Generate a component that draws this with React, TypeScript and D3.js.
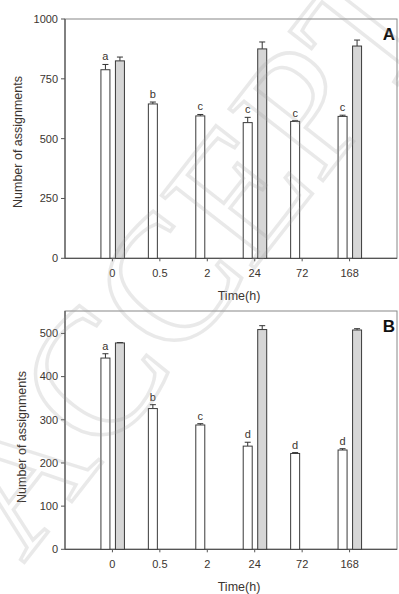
import React from "react";
import * as d3 from "d3";

const categories = ["0", "0.5", "2", "24", "72", "168"];

const whiteA = [788, 645, 595, 567, 572, 593];
const whiteErrA = [22, 8, 6, 22, 3, 5];
const grayA: (number | null)[] = [825, null, null, 875, null, 887];
const grayErrA = [16, 0, 0, 29, 0, 25];
const lettersA = ["a", "b", "c", "c", "c", "c"];
const ticksA = [0, 250, 500, 750, 1000];

const whiteB = [443, 326, 288, 239, 222, 230];
const whiteErrB = [10, 9, 3, 9, 2, 3];
const grayB: (number | null)[] = [478, null, null, 509, null, 508];
const grayErrB = [1, 0, 0, 9, 0, 3];
const lettersB = ["a", "b", "c", "d", "d", "d"];
const ticksB = [0, 100, 200, 300, 400, 500];

const TEXT = "#3b3530";
const FONT = "'Liberation Sans', Arial, sans-serif";

type PanelProps = {
  top: number;
  bottom: number;
  yMax: number;
  ticks: number[];
  white: number[];
  whiteErr: number[];
  gray: (number | null)[];
  grayErr: number[];
  letters: string[];
  tag: string;
  titleX: number;
  titleY: number;
};

function Panel(p: PanelProps) {
  const left = 65;
  const right = 397;
  const x = d3.scaleLinear().domain([0, categories.length + 1]).range([left, right]);
  const y = d3.scaleLinear().domain([0, p.yMax]).range([p.bottom, p.top]);
  const bw = 9;
  const els: React.ReactNode[] = [];

  categories.forEach((c, i) => {
    const cx = x(i + 1);
    const wv = p.white[i];
    const wx = cx - 11.5;
    const we = p.whiteErr[i];
    els.push(
      <g key={"w" + i}>
        <line x1={wx + bw / 2} x2={wx + bw / 2} y1={y(wv)} y2={y(wv + we)} stroke="#333" strokeWidth={1} />
        <line x1={wx + bw / 2 - 3} x2={wx + bw / 2 + 3} y1={y(wv + we)} y2={y(wv + we)} stroke="#333" strokeWidth={1} />
        <rect x={wx} y={y(wv)} width={bw} height={y(0) - y(wv)} fill="#fff" stroke="#3a3a3a" strokeWidth={1} />
        <text x={wx + bw / 2} y={y(wv + we) - 4} textAnchor="middle" fontSize={11} fill={TEXT} fontFamily={FONT}>
          {p.letters[i]}
        </text>
      </g>
    );
    const gv = p.gray[i];
    if (gv != null) {
      const gx = cx + 3;
      const ge = p.grayErr[i];
      els.push(
        <g key={"g" + i}>
          <line x1={gx + bw / 2} x2={gx + bw / 2} y1={y(gv)} y2={y(gv + ge)} stroke="#333" strokeWidth={1} />
          <line x1={gx + bw / 2 - 3} x2={gx + bw / 2 + 3} y1={y(gv + ge)} y2={y(gv + ge)} stroke="#333" strokeWidth={1} />
          <rect x={gx} y={y(gv)} width={bw} height={y(0) - y(gv)} fill="#d6d6d6" stroke="#3a3a3a" strokeWidth={1} />
        </g>
      );
    }
    els.push(
      <g key={"xt" + i}>
        <line x1={cx} x2={cx} y1={p.bottom} y2={p.bottom + 3} stroke="#555" />
        <text x={cx} y={p.bottom + 19} textAnchor="middle" fontSize={11} fill={TEXT} fontFamily={FONT}>
          {c}
        </text>
      </g>
    );
  });

  return (
    <g>
      <rect x={left} y={p.top} width={right - left} height={p.bottom - p.top} fill="none" stroke="#888" strokeWidth={1} />
      {p.ticks.map((t) => (
        <g key={"yt" + t}>
          <line x1={left - 4} x2={left} y1={y(t)} y2={y(t)} stroke="#555" />
          <text x={left - 7} y={y(t)} dy="0.35em" textAnchor="end" fontSize={11} fill={TEXT} fontFamily={FONT}>
            {t}
          </text>
        </g>
      ))}
      <line x1={left} x2={right} y1={p.bottom} y2={p.bottom} stroke="#555" strokeWidth={1.2} />
      <line x1={left} x2={left} y1={p.top} y2={p.bottom} stroke="#555" strokeWidth={1.2} />
      {els}
      <text x={395} y={p.top + 21} textAnchor="end" fontSize={17} fontWeight="bold" fill="#111" fontFamily={FONT}>
        {p.tag}
      </text>
      <text x={(left + right) / 2 + 8} y={p.bottom + 42} textAnchor="middle" fontSize={12.5} fill={TEXT} fontFamily={FONT}>
        Time(h)
      </text>
      <text
        transform={`translate(${p.titleX},${p.titleY}) rotate(-90)`}
        textAnchor="middle"
        dominantBaseline="central"
        fontSize={12.5}
        fill={TEXT}
        fontFamily={FONT}
      >
        Number of assignments
      </text>
    </g>
  );
}

export default function App() {
  return (
    <svg
      width={399}
      height={594}
      style={{ position: "absolute", left: 0, top: 0, background: "#fff" }}
    >
      <rect x={0} y={0} width={399} height={594} fill="#fff" />
      <Panel
        top={19}
        bottom={258.3}
        yMax={1000}
        ticks={ticksA}
        white={whiteA}
        whiteErr={whiteErrA}
        gray={grayA}
        grayErr={grayErrA}
        letters={lettersA}
        tag="A"
        titleX={18}
        titleY={142}
      />
      <Panel
        top={311}
        bottom={549.3}
        yMax={552}
        ticks={ticksB}
        white={whiteB}
        whiteErr={whiteErrB}
        gray={grayB}
        grayErr={grayErrB}
        letters={lettersB}
        tag="B"
        titleX={22}
        titleY={437}
      />
      <text
        transform="translate(262,160) rotate(-52)"
        textAnchor="middle"
        dominantBaseline="central"
        fontSize={180}
        fontFamily="'Liberation Serif', 'DejaVu Serif', serif"
        fill="none"
        stroke="#9a9a9a"
        strokeOpacity={0.22}
        strokeWidth={3.5}
      >
        ACCEPTED
      </text>
    </svg>
  );
}
